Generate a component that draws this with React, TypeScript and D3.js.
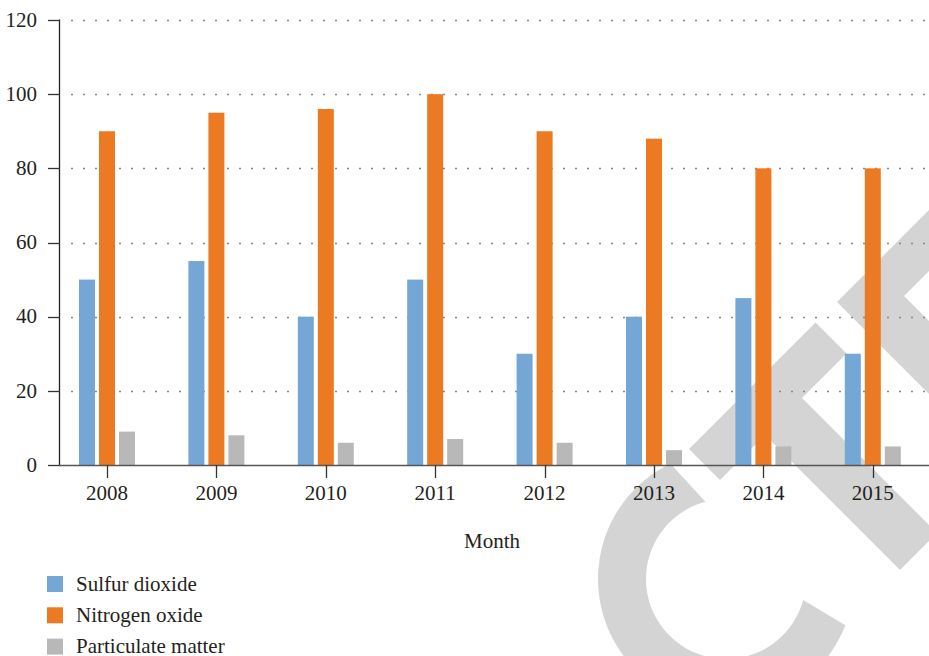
import React from "react";
import * as d3 from "d3";

const years = ["2008", "2009", "2010", "2011", "2012", "2013", "2014", "2015"];
const sulfurDioxide = [50, 55, 40, 50, 30, 40, 45, 30];
const nitrogenOxide = [90, 95, 96, 100, 90, 88, 80, 80];
const particulateMatter = [9, 8, 6, 7, 6, 4, 5, 5];
const seriesNames = ["Sulfur dioxide", "Nitrogen oxide", "Particulate matter"];
const seriesColors = ["#74A6D6", "#EC7A22", "#B8B8B8"];
const yTicks = [0, 20, 40, 60, 80, 100, 120];
const xTitle = "Month";

const W = 929;
const H = 656;
const FS = 21;
const TC = "#231F20";
const WM = "#D4D4D4";

function Label(props: { x: number; y: number; anchor?: string; dy?: string; children: React.ReactNode }) {
  return (
    <text
      x={props.x}
      y={props.y}
      dy={props.dy}
      textAnchor={props.anchor || "start"}
      fontSize={FS}
      fontFamily="Liberation Serif"
      style={{ fontFamily: "Liberation Serif" }}
      fill={TC}
    >
      {props.children}
    </text>
  );
}

function App() {
  const series = [sulfurDioxide, nitrogenOxide, particulateMatter];
  const y = d3.scaleLinear().domain([0, 120]).range([465, 20]);
  const x = d3.scaleBand().domain(years).range([52.3, 927.5]).padding(0);
  const inner = d3
    .scaleBand()
    .domain(seriesNames)
    .range([-30, 30])
    .paddingInner(0.2)
    .paddingOuter(0.1);
  const cx = (yr: string) => (x(yr) as number) + x.bandwidth() / 2;

  // watermark (decorative)
  const cC = [726, 579];
  const deg = Math.PI / 180;
  const cp = d3.path();
  const ro = 128, ri = 80;
  cp.moveTo(cC[0] + ro * Math.cos(244.3 * deg), cC[1] + ro * Math.sin(244.3 * deg));
  cp.arc(cC[0], cC[1], ro, 244.3 * deg, 21.2 * deg, true);
  cp.lineTo(cC[0] + ri * Math.cos(15.3 * deg), cC[1] + ri * Math.sin(15.3 * deg));
  cp.arc(cC[0], cC[1], ri, 15.3 * deg, 255.1 * deg, false);
  cp.closePath();
  const uv = (pts: number[][]) =>
    "M" + pts.map(([u, v]) => `${(u + v) / 2},${(u - v) / 2}`).join("L") + "Z";
  const tShape = uv([
    [1138, 240], [1138, 493], [1200, 493], [1200, 404],
    [1470, 404], [1470, 330], [1200, 330], [1200, 240],
  ]);
  const chevron = uv([
    [1139, 535], [1139, 800], [1200, 800], [1200, 608], [1700, 608], [1700, 535],
  ]);

  return (
    <svg width={W} height={H} style={{ position: "absolute", left: 0, top: 0 }}>
      <rect width={W} height={H} fill="#fff" />
      <g fill={WM}>
        <path d={cp.toString()} />
        <path d={tShape} />
        <path d={chevron} />
      </g>
      {yTicks
        .filter((t) => t > 0)
        .map((t) => (
          <line
            key={t}
            x1={71}
            x2={W}
            y1={Math.round(y(t)) + 0.5}
            y2={Math.round(y(t)) + 0.5}
            stroke="#888"
            strokeWidth={1.3}
            strokeDasharray="2 10"
          />
        ))}
      {years.map((yr, i) => (
        <g key={yr}>
          {series.map((s, k) => (
            <rect
              key={k}
              x={cx(yr) + (inner(seriesNames[k]) as number)}
              y={y(s[i])}
              width={inner.bandwidth()}
              height={y(0) - y(s[i])}
              fill={seriesColors[k]}
            />
          ))}
        </g>
      ))}
      <line x1={59.5} x2={59.5} y1={19.5} y2={465} stroke="#222" strokeWidth={1.3} />
      {yTicks.map((t) => (
        <g key={t}>
          <line x1={48} x2={60} y1={Math.round(y(t)) + 0.5} y2={Math.round(y(t)) + 0.5} stroke="#333" strokeWidth={1.3} />
          <Label x={37} y={y(t)} dy="0.32em" anchor="end">
            {String(t)}
          </Label>
        </g>
      ))}
      <line x1={59} x2={W} y1={465.5} y2={465.5} stroke="#555" strokeWidth={1.6} />
      {years.map((yr) => (
        <g key={yr}>
          <line x1={Math.round(cx(yr)) + 0.5} x2={Math.round(cx(yr)) + 0.5} y1={465} y2={478} stroke="#333" strokeWidth={1.3} />
          <Label x={cx(yr)} y={500} anchor="middle">
            {yr}
          </Label>
        </g>
      ))}
      <Label x={492} y={548} anchor="middle">
        {xTitle}
      </Label>
      {seriesNames.map((n, k) => (
        <g key={n} transform={`translate(47, ${576 + k * 31.3})`}>
          <rect width={16} height={16} fill={seriesColors[k]} />
          <Label x={29} y={14.5}>
            {n}
          </Label>
        </g>
      ))}
    </svg>
  );
}

export default App;
